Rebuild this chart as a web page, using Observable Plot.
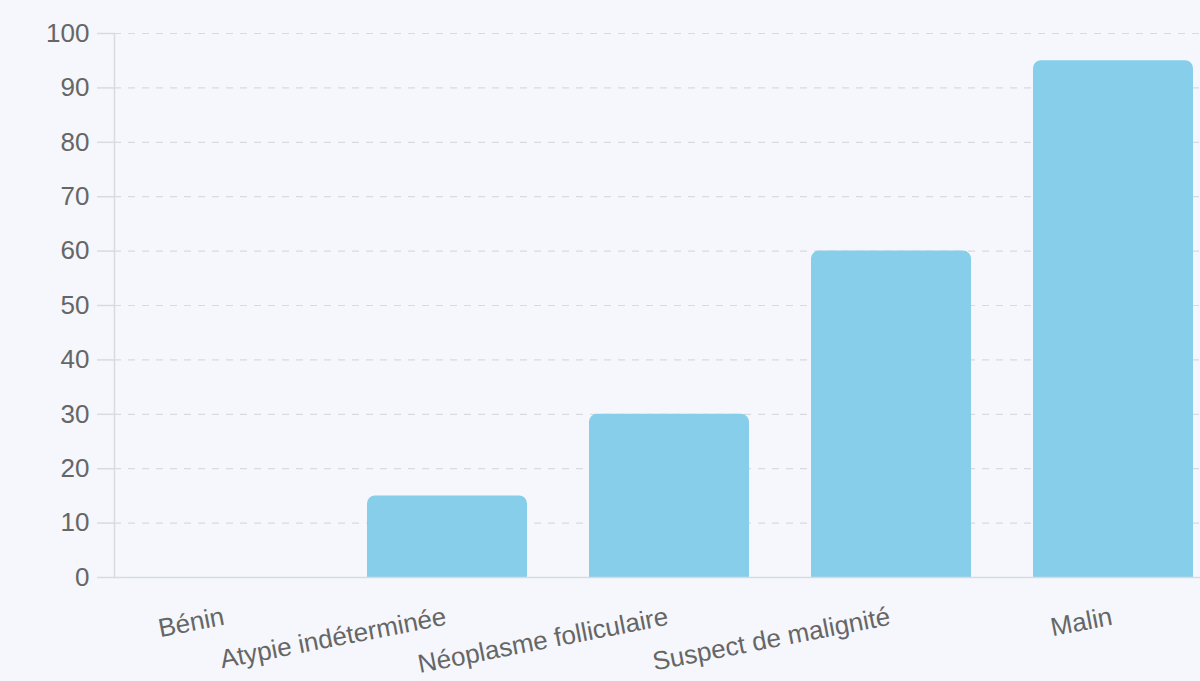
<!DOCTYPE html>
<html>
<head>
<meta charset="utf-8">
<script src="https://cdn.jsdelivr.net/npm/d3@7"></script>
<script src="https://cdn.jsdelivr.net/npm/@observablehq/plot@0.6"></script>
<style>
  html, body { margin: 0; padding: 0; background: #f5f7fc; overflow: hidden; width: 1200px; height: 681px; }
  #chart svg { display: block; max-width: none !important; }
</style>
</head>
<body>
<div id="chart"></div>
<script>
const categories = ["Bénin", "Atypie indéterminée", "Néoplasme folliculaire", "Suspect de malignité", "Malin"];
const values = [0, 15, 30, 60, 95];
const yTicks = [0, 10, 20, 30, 40, 50, 60, 70, 80, 90, 100];

const data = categories.map((c, i) => ({cat: c, value: values[i]}));

const lineColor = "#d8dadf";
const textColor = "#666666";

const chart = Plot.plot({
  width: 1224,
  height: 681,
  marginLeft: 114,
  marginRight: 0,
  marginTop: 33,
  marginBottom: 104,
  style: {background: "transparent", fontFamily: "'Liberation Sans', Arial, Helvetica, sans-serif", fontSize: "26px", overflow: "visible", maxWidth: "none"},
  x: {domain: categories, paddingInner: 0.28, paddingOuter: 0.14, axis: null},
  y: {domain: [0, 100], axis: null},
  marks: [
    Plot.gridY(yTicks, {stroke: lineColor, strokeOpacity: 1, strokeWidth: 1.2, strokeDasharray: "7,7"}),
    Plot.barY(data, {x: "cat", y: "value", fill: "#87ceeb", rx1y1: 8, rx2y1: 8}),
    Plot.ruleY([0], {stroke: lineColor, strokeWidth: 1.5}),
    Plot.frame({anchor: "left", stroke: lineColor, strokeWidth: 1.5}),
    Plot.axisY({ticks: yTicks, tickSize: 17, tickPadding: 8, stroke: lineColor, strokeOpacity: 1, strokeWidth: 1.5, fill: textColor, fontSize: 26, label: null}),
    Plot.text(data, {x: "cat", text: "cat", frameAnchor: "bottom", dy: 47, rotate: -11, textAnchor: "end", fill: textColor, fontSize: 26})
  ]
});
document.getElementById("chart").appendChild(chart);
</script>
</body>
</html>
